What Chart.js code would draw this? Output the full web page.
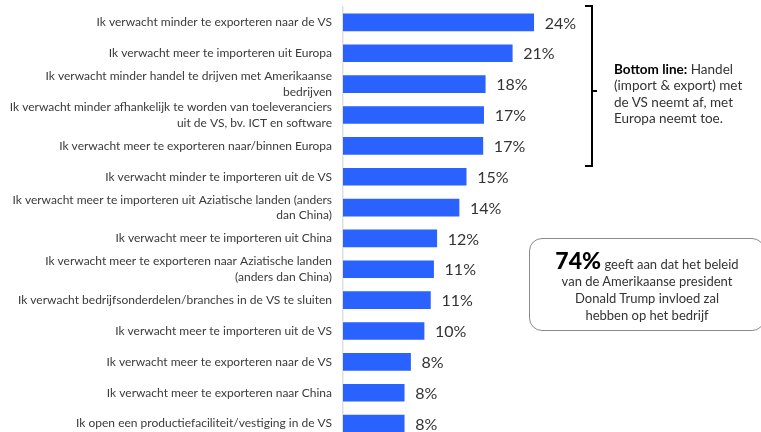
<!DOCTYPE html>
<html>
<head>
<meta charset="utf-8">
<script src="https://cdn.jsdelivr.net/npm/chart.js@4"></script>
<style>
  html, body { margin: 0; padding: 0; background: #fff; overflow: hidden; }
  #wrap { position: relative; width: 761px; height: 432px; overflow: hidden; font-family: Lato, "Open Sans", sans-serif; }
  #chart { position: absolute; left: 0; top: 0; }
  .note { position: absolute; left: 614px; top: 61px; width: 134px; font-size: 13.5px; line-height: 16.3px; color: #333; }
  .note b { color: #000; }
  .box { position: absolute; left: 529px; top: 238px; width: 236px; height: 93px; box-sizing: border-box;
         border: 1.5px solid #8a8a8a; border-radius: 13px; text-align: center; font-size: 13px; line-height: 17px; color: #333;
         padding-top: 13px; }
  .box b { font-size: 23px; color: #000; font-weight: 900; }
</style>
</head>
<body>
<div id="wrap">
  <canvas id="chart" width="761" height="439"></canvas>
  <div class="note"><b>Bottom line:</b> Handel (import &amp; export) met de VS neemt af, met Europa neemt toe.</div>
  <div class="box"><b>74%</b> geeft aan dat het beleid<br>van de Amerikaanse president<br>Donald Trump invloed zal<br>hebben op het bedrijf</div>
</div>
<script>
// ============================================================
// DATA
// ============================================================

const categories = [
    'Ik verwacht minder te exporteren naar de VS',
    'Ik verwacht meer te importeren uit Europa',
    ['Ik verwacht minder handel te drijven met Amerikaanse', 'bedrijven'],
    ['Ik verwacht minder afhankelijk te worden van toeleveranciers', 'uit de VS, bv. ICT en software'],
    'Ik verwacht meer te exporteren naar/binnen Europa',
    'Ik verwacht minder te importeren uit de VS',
    ['Ik verwacht meer te importeren uit Aziatische landen (anders', 'dan China)'],
    'Ik verwacht meer te importeren uit China',
    ['Ik verwacht meer te exporteren naar Aziatische landen', '(anders dan China)'],
    'Ik verwacht bedrijfsonderdelen/branches in de VS te sluiten',
    'Ik verwacht meer te importeren uit de VS',
    'Ik verwacht meer te exporteren naar de VS',
    'Ik verwacht meer te exporteren naar China',
    'Ik open een productiefaciliteit/vestiging in de VS'
];

// bar lengths (unrounded)
const values = [24, 21.3, 17.9, 17.7, 17.6, 15.5, 14.6, 11.8, 11.4, 11.0, 10.2, 8.5, 7.7, 7.7];

// printed labels next to the bars
const valueLabels = ['24%', '21%', '18%', '17%', '17%', '15%', '14%', '12%', '11%', '11%', '10%', '8%', '8%', '8%'];

const barColor = '#2962ff';

// ============================================================
// PLUGINS
// ============================================================

const valueLabelPlugin = {
    id: 'valueLabels',
    afterDatasetsDraw(chart) {
        const ctx = chart.ctx;
        const meta = chart.getDatasetMeta(0);
        ctx.save();
        ctx.font = '16px Lato, "Open Sans", sans-serif';
        ctx.fillStyle = '#333';
        ctx.textAlign = 'left';
        ctx.textBaseline = 'middle';
        meta.data.forEach((bar, i) => {
            ctx.fillText(valueLabels[i], bar.x + 11, bar.y + 1);
        });
        ctx.restore();
    }
};

const bracketPlugin = {
    id: 'bracket',
    afterDraw(chart) {
        const ctx = chart.ctx;
        ctx.save();
        ctx.strokeStyle = '#000';
        ctx.lineWidth = 2;
        ctx.beginPath();
        ctx.moveTo(585, 6);
        ctx.lineTo(592, 6);
        ctx.lineTo(592, 166);
        ctx.lineTo(585, 166);
        ctx.moveTo(592, 91);
        ctx.lineTo(597, 91);
        ctx.stroke();
        ctx.restore();
    }
};

// ============================================================
// CHART
// ============================================================

new Chart(document.getElementById('chart'), {
    type: 'bar',
    data: {
        labels: categories,
        datasets: [{
            data: values,
            backgroundColor: barColor,
            barThickness: 17
        }]
    },
    options: {
        indexAxis: 'y',
        responsive: false,
        animation: false,
        layout: { padding: { top: 7, right: 0, bottom: 0, left: 0 } },
        plugins: {
            legend: { display: false },
            tooltip: { enabled: false }
        },
        scales: {
            x: {
                display: false,
                min: 0,
                max: 52.6
            },
            y: {
                afterFit(axis) {
                    axis.width = 343;
                    axis.paddingTop = 0;
                    axis.paddingBottom = 0;
                },
                grid: { display: false, drawTicks: false },
                border: { display: true, color: '#e0e0e0', width: 1.5 },
                ticks: {
                    autoSkip: false,
                    padding: 11,
                    color: '#3a3a3a',
                    font: { family: 'Lato, "Open Sans", sans-serif', size: 12, lineHeight: 1.3 }
                }
            }
        }
    },
    plugins: [valueLabelPlugin, bracketPlugin]
});
</script>
</body>
</html>
